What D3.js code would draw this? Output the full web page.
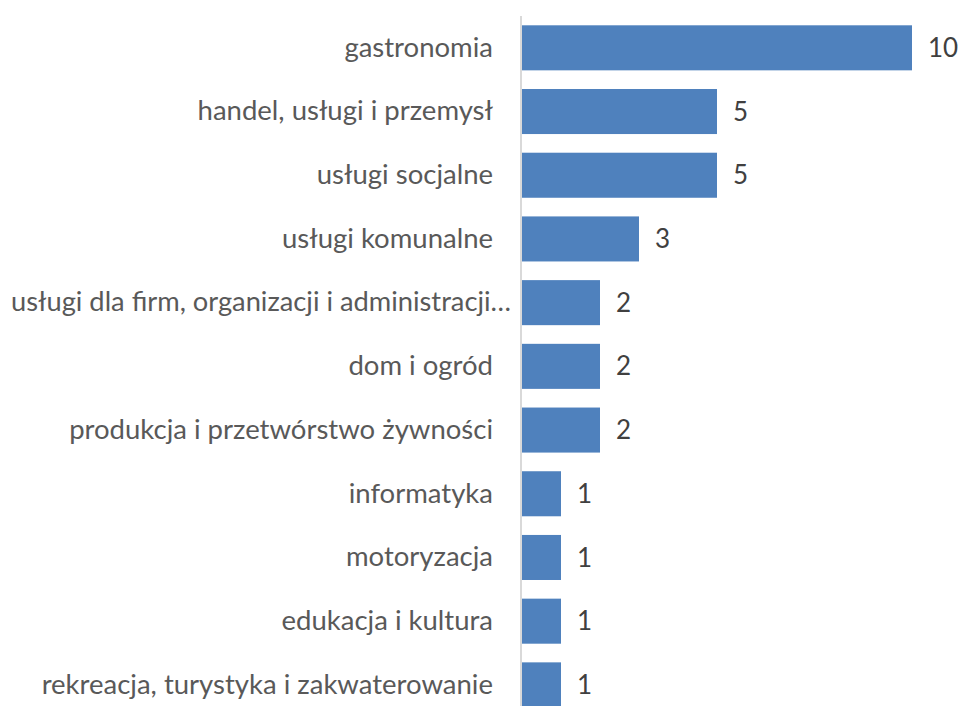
<!DOCTYPE html>
<html>
<head>
<meta charset="utf-8">
<script src="https://cdn.jsdelivr.net/npm/d3@7"></script>
<style>
  body { margin: 0; background: #fff; }
  svg text { font-family: Lato, "Open Sans", sans-serif; }
</style>
</head>
<body>
<svg id="chart" width="958" height="706"></svg>
<script>
const categories = [
  'gastronomia',
  'handel, usługi i przemysł',
  'usługi socjalne',
  'usługi komunalne',
  'usługi dla firm, organizacji i administracji…',
  'dom i ogród',
  'produkcja i przetwórstwo żywności',
  'informatyka',
  'motoryzacja',
  'edukacja i kultura',
  'rekreacja, turystyka i zakwaterowanie'
];
const values = [10, 5, 5, 3, 2, 2, 2, 1, 1, 1, 1];

const width = 958,
  height = 706,
  margin = { top: 16, left: 521 };

const svg = d3.select('#chart');

const x = d3
  .scaleLinear()
  .domain([0, 10])
  .range([margin.left + 1, 912]);

const y = d3
  .scaleBand()
  .domain(categories)
  .range([margin.top, margin.top + 63.7 * categories.length])
  .paddingInner(0.293)
  .paddingOuter(0.146);

svg
  .append('g')
  .selectAll('rect')
  .data(values)
  .join('rect')
  .attr('x', x(0))
  .attr('y', (d, i) => y(categories[i]))
  .attr('width', d => x(d) - x(0))
  .attr('height', y.bandwidth())
  .attr('fill', '#4f81bd');

// category axis
svg
  .append('g')
  .attr('transform', `translate(${margin.left},0)`)
  .call(d3.axisLeft(y).tickSize(0).tickPadding(28))
  .call(g => g.select('.domain').attr('stroke', '#d9d9d9').attr('stroke-width', 2).attr('d', `M0,${margin.top}V${height}`))
  .selectAll('text')
  .attr('font-family', 'Lato, sans-serif')
  .attr('font-size', 27.5)
  .attr('fill', '#595959')
  // the truncated label overhangs the others, as in the original
  .filter(d => d.endsWith('…'))
  .attr('text-anchor', 'start')
  .attr('x', 11 - margin.left)
  .attr('textLength', 500)
  .attr('lengthAdjust', 'spacingAndGlyphs');

svg
  .append('g')
  .selectAll('text')
  .data(values)
  .join('text')
  .attr('x', d => x(d) + 16)
  .attr('y', (d, i) => y(categories[i]) + y.bandwidth() / 2)
  .attr('dy', '0.35em')
  .attr('font-size', 26)
  .attr('fill', '#404040')
  .text(d => d);
</script>
</body>
</html>
